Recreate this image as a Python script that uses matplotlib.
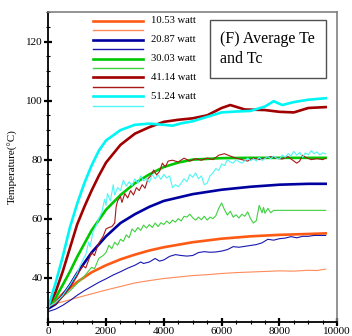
import matplotlib
matplotlib.use("Agg")
import matplotlib.pyplot as plt
from matplotlib.ticker import MultipleLocator

plt.rcParams['font.family'] = ['Liberation Serif', 'DejaVu Serif']

# legend labels
powers = ['10.53 watt', '20.87 watt', '30.03 watt', '41.14 watt', '51.24 watt']

# thick curves (Te), smooth
orange_te_x = [0, 250, 500, 750, 1000, 1500, 2000, 2500, 3000, 3500, 4000, 5000, 6000, 7000, 8000, 9000, 9600]
orange_te_y = [30, 32, 34.5, 36.5, 38.5, 41.8, 44.2, 46.2, 47.8, 49.2, 50.3, 52, 53.2, 54, 54.5, 54.8, 55]

blue_te_x = [0, 250, 500, 750, 1000, 1500, 2000, 2500, 3000, 3500, 4000, 5000, 6000, 7000, 8000, 9000, 9600]
blue_te_y = [29.5, 31, 34, 37.5, 41.5, 48.5, 54, 58.5, 61.5, 64, 66, 68.3, 69.8, 70.8, 71.5, 71.8, 71.8]

green_te_x = [0, 250, 500, 750, 1000, 1500, 2000, 2500, 3000, 3500, 4000, 4500, 5000, 6000, 7000, 8000, 9000, 9600]
green_te_y = [30, 33, 37.5, 42, 47, 56, 63, 68, 72, 75, 77.5, 79, 80, 80.5, 80.6, 80.6, 80.6, 80.6]

red_te_x = [0, 250, 500, 750, 1000, 1250, 1500, 1750, 2000, 2500, 3000, 3500, 4000, 4500, 5000, 5500,
            6000, 6300, 6800, 7500, 8000, 8500, 9000, 9600]
red_te_y = [30, 35, 42, 50, 58, 64, 69.5, 74.5, 79, 85, 88.8, 91, 92.8, 93.5, 94, 95,
            97.5, 98.5, 97, 96.8, 96.2, 96, 97.5, 97.8]

cyan_te_x = [0, 250, 500, 750, 1000, 1250, 1500, 1750, 2000, 2500, 3000, 3500, 4000, 4300, 4600, 5000,
             5500, 6000, 6500, 7000, 7500, 7800, 8100, 8500, 9000, 9600]
cyan_te_y = [30, 38, 47, 57, 65, 72, 78, 83, 86.5, 90, 91.8, 92.2, 91.8, 91.5, 92.3, 93,
             94.5, 96, 96.3, 96.5, 98, 99.8, 98.5, 99.5, 100.3, 100.8]

# thin curves (Tc), noisy
orange_tc_x = [0, 250, 500, 750, 1000, 1500, 2000, 2500, 3000, 3500, 4000, 4500, 5000, 5500, 6000,
               6500, 7000, 7500, 8000, 8500, 9000, 9300, 9600]
orange_tc_y = [30.5, 31.2, 31.8, 32.5, 33.2, 34.5, 35.8, 37, 38.2, 39, 39.7, 40.2, 40.7, 41, 41.4,
               41.7, 41.9, 42.1, 42.3, 42.2, 42.5, 42.4, 42.9]

blue_tc_x = [0, 250, 500, 750, 1000, 1250, 1500, 1750, 2000, 2250, 2500, 2750, 3000, 3200, 3300, 3500,
             3700, 3850, 4000, 4200, 4400, 4600, 4800, 5000, 5200, 5400, 5600, 5800, 6000, 6200, 6400,
             6600, 6800, 7000, 7200, 7400, 7600, 7800, 8000, 8200, 8400, 8600, 8800, 9000, 9200, 9600]
blue_tc_y = [28.5, 29.3, 30.6, 32.2, 34, 35.6, 37, 38.4, 39.6, 40.9, 42, 43.2, 44.2, 45.3, 44.8, 45.3,
             46.5, 45.6, 46, 47.2, 47.8, 47.5, 47.3, 47.5, 48.5, 48.8, 48.6, 48.7, 49, 49.5, 50.5,
             50.3, 50.6, 50.9, 51.2, 51.8, 53, 52.7, 53.2, 53.4, 53.9, 53.5, 54, 54, 54.3, 54.3]

green_tc_x = [0, 250, 500, 750, 1000, 1250, 1500, 1600, 1750, 1900, 2000, 2100, 2200, 2300, 2400, 2500,
              2600, 2700, 2800, 2900, 3000, 3100, 3200, 3300, 3400, 3500, 3600, 3700, 3800, 3900, 4000,
              4100, 4200, 4300, 4400, 4500, 4600, 4700, 4800, 4900, 5000, 5100, 5200, 5300, 5400, 5500,
              5600, 5700, 5800, 5900, 6000, 6100, 6200, 6300, 6400, 6500, 6600, 6700, 6800, 6900, 7000,
              7100, 7200, 7300, 7400, 7450, 7500, 7600, 7700, 7800, 9600]
green_tc_y = [30, 31.5, 33.5, 35.5, 38, 40.5, 43.5, 43, 46.5, 47.5, 48.5, 51, 49.8, 52, 51, 53,
              52.3, 54.5, 53.5, 56.5, 55.5, 57, 56, 57.8, 56.8, 58, 57, 58.5, 57.3, 58.6, 58,
              59.2, 58.3, 59.5, 58.8, 60, 59.2, 60.8, 60.5, 61.5, 60.3, 59.5, 60.5, 59.6, 60.8, 59.5,
              60.5, 60, 61, 63.5, 65.3, 63, 61.2, 62.5, 60.5, 61.3, 60.2, 61.5, 60.8, 62.3, 60,
              58.5, 59.3, 64.5, 62, 63.8, 61.8, 63.5, 62, 62.8, 62.8]

red_tc_x = [0, 250, 500, 750, 1000, 1100, 1200, 1300, 1400, 1500, 1600, 1700, 1800, 1900, 2000, 2100,
            2200, 2300, 2350, 2400, 2500, 2550, 2650, 2750, 2850, 2950, 3050, 3150, 3250, 3350, 3450,
            3550, 3650, 3750, 3850, 3950, 4050, 4150, 4300, 4500, 4700, 4900, 5100, 5300, 5500, 5700,
            5900, 6100, 6300, 6500, 6700, 6900, 7100, 7300, 7500, 7700, 7900, 8100, 8300, 8500, 8600,
            8700, 8800, 8900, 9100, 9300, 9500, 9600]
red_tc_y = [30, 31, 33.5, 36.5, 40.5, 42.5, 44, 43.3, 46, 48.5, 47.5, 50.5, 52.5, 54, 56.5, 57,
            57.3, 58.5, 64, 66, 67.5, 65.5, 68.5, 67, 69.5, 68, 70.5, 69.5, 71.5, 70.3, 73.5,
            74.5, 76.5, 74.8, 76, 78.8, 77.5, 79.5, 79.8, 79.2, 80.5, 79.5, 80.3, 79.8, 80.5, 80,
            81.5, 82, 81.2, 80.5, 80, 79.5, 80.5, 80, 80.5, 81, 80.5, 80.2, 81, 79.5, 78.8,
            79.5, 81.5, 80.8, 80, 80.3, 80, 80.5]

cyan_tc_x = [0, 250, 500, 750, 1000, 1100, 1200, 1300, 1400, 1450, 1550, 1650, 1750, 1850, 1950, 2000,
             2050, 2150, 2250, 2300, 2400, 2500, 2600, 2700, 2800, 2900, 3000, 3100, 3200, 3300, 3400,
             3500, 3600, 3700, 3800, 3900, 4000, 4100, 4200, 4300, 4400, 4500, 4600, 4700, 4800, 4900,
             5000, 5100, 5200, 5300, 5400, 5500, 5600, 5700, 5800, 5900, 6000, 6100, 6200, 6300, 6400,
             6500, 6600, 6700, 6800, 6900, 7000, 7100, 7200, 7300, 7400, 7500, 7600, 7700, 7800, 7900,
             8000, 8100, 8200, 8300, 8400, 8500, 8600, 8700, 8800, 8900, 9000, 9100, 9200, 9300, 9400,
             9500, 9600]
cyan_tc_y = [30, 31.5, 34, 37.5, 41.5, 44, 46, 47.8, 52, 50.5, 55.5, 57.5, 60, 62, 66.5, 64.5,
             68.5, 66, 71.5, 68, 70.5, 69.5, 73, 71, 72.5, 71.2, 73.5, 72, 74.5, 72.8, 73.5,
             72.3, 75, 73.5, 74.8, 73.3, 75, 73.8, 74.5, 70.5, 71.5, 70.8, 72, 73.5, 72.5, 75,
             74, 75.5, 73.5, 74.5, 71.5, 72, 74.5, 75.5, 77, 76.3, 78.5, 78, 80, 79.2, 78.8,
             80, 79.3, 78.8, 79.6, 80.5, 79.6, 80.3, 79.5, 80.8, 79.7, 80.4, 81, 80.3, 81.2, 80.5,
             80.2, 81.5, 80.8, 82, 81.2, 82.8, 81.5, 82.5, 80.8, 82.3, 81.6, 83, 82, 82.6, 81.6,
             82.3, 82]

fig = plt.figure(figsize=(3.52, 3.36), dpi=100)
ax = fig.add_axes([0.137, 0.042, 0.821, 0.922])

series = [
    (orange_te_x, orange_te_y, orange_tc_x, orange_tc_y, '#ff5a14', '#ff8a58'),
    (blue_te_x, blue_te_y, blue_tc_x, blue_tc_y, '#0000a0', '#1818b0'),
    (green_te_x, green_te_y, green_tc_x, green_tc_y, '#00c800', '#40d040'),
    (red_te_x, red_te_y, red_tc_x, red_tc_y, '#a00000', '#a81818'),
    (cyan_te_x, cyan_te_y, cyan_tc_x, cyan_tc_y, '#00f5f5', '#50f5f5'),
]

# legend drawn by hand: thick line with label, thin line below it
leg_x0, leg_x1, leg_tx = 0.156, 0.329, 0.356
row_top, pitch = 0.972, 0.0305
for i, ((tx, ty, cx, cy, c1, c2), lab) in enumerate(zip(series, powers)):
    ax.plot(tx, ty, color=c1, lw=1.9)
    ax.plot(cx, cy, color=c2, lw=0.8)
    y1 = row_top - 2 * i * pitch
    y2 = y1 - pitch
    ax.plot([leg_x0, leg_x1], [y1, y1], color=c1, lw=1.9, transform=ax.transAxes)
    ax.plot([leg_x0, leg_x1], [y2, y2], color=c2, lw=1.0, transform=ax.transAxes)
    ax.text(leg_tx, y1, lab, transform=ax.transAxes, fontsize=7.7, va='center', ha='left')

ax.set_xlim(0, 10000)
ax.set_ylim(25, 130)
ax.xaxis.set_major_locator(MultipleLocator(2000))
ax.xaxis.set_minor_locator(MultipleLocator(500))
ax.yaxis.set_major_locator(MultipleLocator(20))
ax.yaxis.set_minor_locator(MultipleLocator(5))
ax.tick_params(which='major', direction='inout', length=6, width=1.6, labelsize=8, pad=1,
               top=False, right=False)
ax.tick_params(which='minor', direction='inout', length=3.5, width=0.8, top=False, right=False)
ax.set_ylabel('Temperature(\u00b0C)', fontsize=8, labelpad=6)

for s in ['left', 'bottom']:
    ax.spines[s].set_linewidth(1.3)
for s in ['top', 'right']:
    ax.spines[s].set_color('#808080')
    ax.spines[s].set_linewidth(1.2)

ax.text(0.596, 0.94, '(F) Average Te\nand Tc', transform=ax.transAxes, fontsize=11.5,
        va='top', ha='left', linespacing=1.4,
        bbox=dict(boxstyle='square,pad=0.65', facecolor='white', edgecolor='#505050', lw=1))

fig.savefig('out.png', dpi=100)
